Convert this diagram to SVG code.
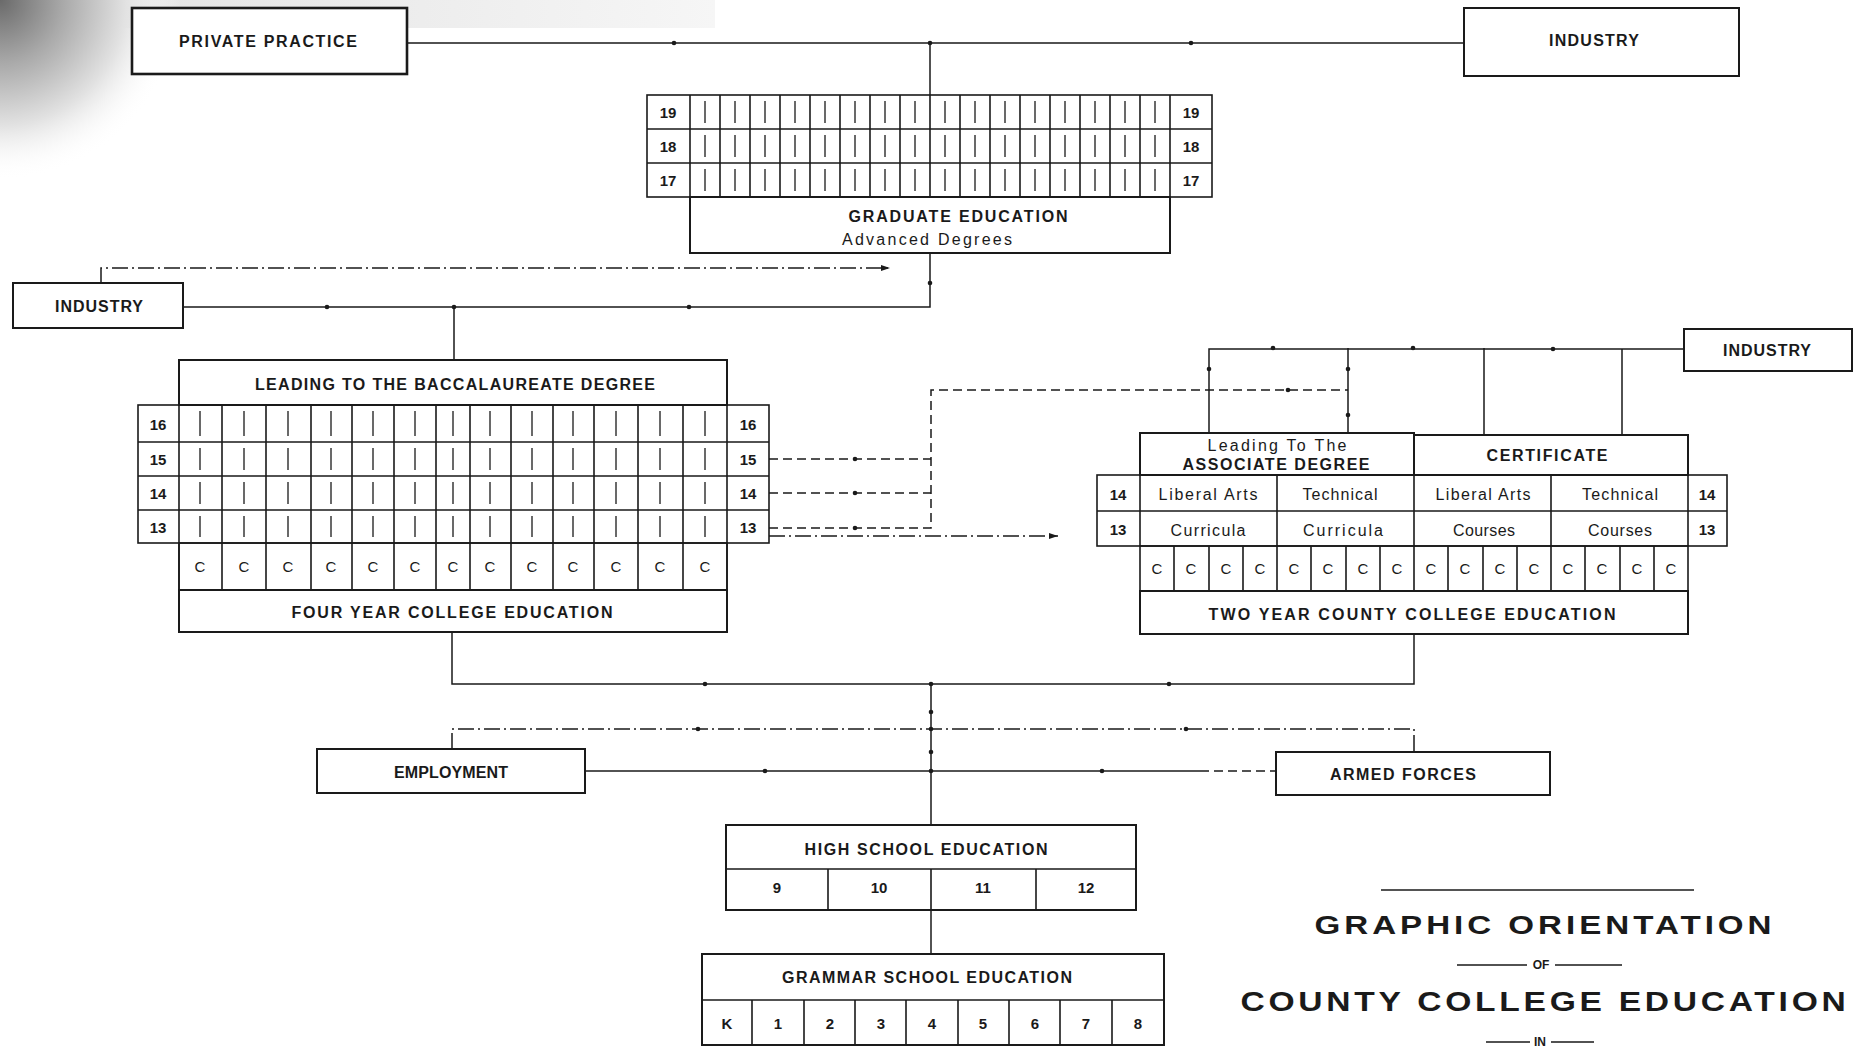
<svg xmlns="http://www.w3.org/2000/svg" width="1854" height="1049" viewBox="0 0 1854 1049">
<style>
.bg{fill:#fff}
.box{fill:#fff;stroke:#1a1a1a;stroke-width:2}
.grid{fill:none;stroke:#1a1a1a;stroke-width:1.6}
.bar{fill:none;stroke:#1a1a1a;stroke-width:1.3}
.ln{fill:none;stroke:#1a1a1a;stroke-width:1.5}
.dash{stroke-dasharray:9 5}
.dd{stroke-dasharray:16 4 2 4}
text{font-family:'Liberation Sans',Arial,sans-serif;fill:#1a1a1a;text-anchor:middle;dominant-baseline:central}
.lbl{font-size:16px;font-weight:bold}
.lc{font-size:16px}
.num{font-size:15px;font-weight:bold}
.c{font-size:15px}
.t1{font-size:25px;font-weight:bold;letter-spacing:3px;dominant-baseline:alphabetic}
.t2{font-size:12px;font-weight:bold}
</style>
<defs>
<radialGradient id="sm" gradientUnits="userSpaceOnUse" cx="0" cy="0" r="180">
<stop offset="0" stop-color="#6a6a6a"/>
<stop offset="0.35" stop-color="#a9a9a9"/>
<stop offset="0.7" stop-color="#e2e2e2"/>
<stop offset="1" stop-color="#ffffff" stop-opacity="0"/>
</radialGradient>
<linearGradient id="band" x1="0" y1="0" x2="1" y2="0">
<stop offset="0" stop-color="#e0e0e0"/>
<stop offset="1" stop-color="#f6f6f6"/>
</linearGradient>
<circle id="d" cx="0" cy="0" r="2.3" fill="#1a1a1a"/>
<marker id="ah" markerWidth="10" markerHeight="8" refX="9" refY="4" orient="auto" markerUnits="userSpaceOnUse">
<path d="M0 1L9 4L0 7Z" fill="#1a1a1a"/>
</marker>
</defs>
<rect class="bg" x="0" y="0" width="1854" height="1049"/>
<rect x="0" y="0" width="715" height="28" fill="url(#band)"/>
<rect x="0" y="0" width="180" height="180" fill="url(#sm)"/>

<g id="connectors">
<path class="ln" d="M407 43H1464M930 43V95"/>
<path class="ln" d="M930 253V307H183M454 307V360"/>
<path class="ln dd" d="M101 283V268H890" marker-end="url(#ah)"/>
<path class="ln dash" d="M769 459H931M769 493H931M769 528H931V390H1348"/>
<path class="ln dd" d="M769 536H1058" marker-end="url(#ah)"/>
<path class="ln" d="M1684 349H1209V433M1348 348V433M1484 348V435M1622 349V435"/>
<path class="ln" d="M452 632V684H1414V634M931 684V825"/>
<path class="ln dd" d="M452 749V729H1414V752"/>
<path class="ln" d="M585 771H1200"/>
<path class="ln dash" d="M1200 771H1276"/>
<path class="ln" d="M931 910V954"/>
<g>
<use href="#d" x="674" y="43"/><use href="#d" x="1191" y="43"/><use href="#d" x="930" y="43"/>
<use href="#d" x="930" y="283"/><use href="#d" x="327" y="307"/><use href="#d" x="689" y="307"/><use href="#d" x="454" y="307"/>
<use href="#d" x="855" y="459"/><use href="#d" x="855" y="493"/><use href="#d" x="855" y="528"/><use href="#d" x="1288" y="390"/>
<use href="#d" x="1209" y="369"/><use href="#d" x="1348" y="369"/><use href="#d" x="1348" y="415"/>
<use href="#d" x="1273" y="348"/><use href="#d" x="1413" y="348"/><use href="#d" x="1553" y="349"/>
<use href="#d" x="705" y="684"/><use href="#d" x="1169" y="684"/><use href="#d" x="931" y="684"/>
<use href="#d" x="931" y="712"/><use href="#d" x="931" y="729"/><use href="#d" x="931" y="752"/><use href="#d" x="931" y="771"/>
<use href="#d" x="698" y="729"/><use href="#d" x="1186" y="729"/><use href="#d" x="765" y="771"/><use href="#d" x="1102" y="771"/>
</g>
</g>

<g id="private-practice">
<rect class="box" x="132" y="8" width="275" height="66" style="stroke-width:2.6"/>
<text class="lbl" x="268" y="41" textLength="178">PRIVATE PRACTICE</text>
</g>

<g id="industry-top">
<rect class="box" x="1464" y="8" width="275" height="68"/>
<text class="lbl" x="1594" y="40" textLength="90">INDUSTRY</text>
</g>

<g id="graduate">
<rect class="grid" x="647" y="95" width="565" height="102"/>
<path class="grid" d="M647 129H1212M647 163H1212M690 95V197M720 95V197M750 95V197M780 95V197M810 95V197M840 95V197M870 95V197M900 95V197M930 95V197M960 95V197M990 95V197M1020 95V197M1050 95V197M1080 95V197M1110 95V197M1140 95V197M1170 95V197"/>
<path class="bar" d="M705 101V123M705 135V157M705 169V191M735 101V123M735 135V157M735 169V191M765 101V123M765 135V157M765 169V191M795 101V123M795 135V157M795 169V191M825 101V123M825 135V157M825 169V191M855 101V123M855 135V157M855 169V191M885 101V123M885 135V157M885 169V191M915 101V123M915 135V157M915 169V191M945 101V123M945 135V157M945 169V191M975 101V123M975 135V157M975 169V191M1005 101V123M1005 135V157M1005 169V191M1035 101V123M1035 135V157M1035 169V191M1065 101V123M1065 135V157M1065 169V191M1095 101V123M1095 135V157M1095 169V191M1125 101V123M1125 135V157M1125 169V191M1155 101V123M1155 135V157M1155 169V191"/>
<text class="num" x="668" y="112">19</text><text class="num" x="668" y="146">18</text><text class="num" x="668" y="180">17</text>
<text class="num" x="1191" y="112">19</text><text class="num" x="1191" y="146">18</text><text class="num" x="1191" y="180">17</text>
<rect class="box" x="690" y="197" width="480" height="56"/>
<text class="lbl" x="958" y="216" textLength="219">GRADUATE EDUCATION</text>
<text class="lc" x="927" y="239" textLength="170">Advanced Degrees</text>
</g>

<g id="industry-left">
<rect class="box" x="13" y="283" width="170" height="45"/>
<text class="lbl" x="99" y="306" textLength="88">INDUSTRY</text>
</g>

<g id="four-year">
<rect class="box" x="179" y="360" width="548" height="45"/>
<text class="lbl" x="455" y="384" textLength="400">LEADING TO THE BACCALAUREATE DEGREE</text>
<rect class="grid" x="138" y="405" width="631" height="138"/>
<path class="grid" d="M138 442H769M138 476H769M138 510H769M179 405V590M222 405V590M266 405V590M311 405V590M352 405V590M394 405V590M436 405V590M470 405V590M511 405V590M553 405V590M594 405V590M638 405V590M683 405V590M727 405V590"/>
<path class="bar" d="M200 411V436M200 448V470M200 482V504M200 516V537M244 411V436M244 448V470M244 482V504M244 516V537M288 411V436M288 448V470M288 482V504M288 516V537M331 411V436M331 448V470M331 482V504M331 516V537M373 411V436M373 448V470M373 482V504M373 516V537M415 411V436M415 448V470M415 482V504M415 516V537M453 411V436M453 448V470M453 482V504M453 516V537M490 411V436M490 448V470M490 482V504M490 516V537M532 411V436M532 448V470M532 482V504M532 516V537M573 411V436M573 448V470M573 482V504M573 516V537M616 411V436M616 448V470M616 482V504M616 516V537M660 411V436M660 448V470M660 482V504M660 516V537M705 411V436M705 448V470M705 482V504M705 516V537"/>
<text class="num" x="158" y="424">16</text><text class="num" x="158" y="459">15</text><text class="num" x="158" y="493">14</text><text class="num" x="158" y="527">13</text>
<text class="num" x="748" y="424">16</text><text class="num" x="748" y="459">15</text><text class="num" x="748" y="493">14</text><text class="num" x="748" y="527">13</text>
<rect class="grid" x="179" y="543" width="548" height="47"/>
<text class="c" x="200" y="566">C</text><text class="c" x="244" y="566">C</text><text class="c" x="288" y="566">C</text><text class="c" x="331" y="566">C</text><text class="c" x="373" y="566">C</text><text class="c" x="415" y="566">C</text><text class="c" x="453" y="566">C</text><text class="c" x="490" y="566">C</text><text class="c" x="532" y="566">C</text><text class="c" x="573" y="566">C</text><text class="c" x="616" y="566">C</text><text class="c" x="660" y="566">C</text><text class="c" x="705" y="566">C</text>
<rect class="box" x="179" y="590" width="548" height="42"/>
<text class="lbl" x="452" y="612" textLength="321">FOUR YEAR COLLEGE EDUCATION</text>
</g>

<g id="industry-right">
<rect class="box" x="1684" y="329" width="168" height="42"/>
<text class="lbl" x="1767" y="350" textLength="88">INDUSTRY</text>
</g>

<g id="two-year">
<rect class="box" x="1140" y="433" width="274" height="42"/>
<text class="lc" x="1277" y="445" textLength="139">Leading To The</text>
<text class="lbl" x="1276" y="464" textLength="187">ASSOCIATE DEGREE</text>
<rect class="box" x="1414" y="435" width="274" height="40"/>
<text class="lbl" x="1547" y="455" textLength="121">CERTIFICATE</text>
<rect class="grid" x="1097" y="475" width="630" height="71"/>
<path class="grid" d="M1097 511H1727M1140 475V546M1277 475V546M1414 475V634M1551 475V546M1688 475V546"/>
<text class="num" x="1118" y="494">14</text><text class="num" x="1118" y="529">13</text>
<text class="num" x="1707" y="494">14</text><text class="num" x="1707" y="529">13</text>
<text class="lc" x="1208" y="494" textLength="99">Liberal Arts</text>
<text class="lc" x="1340" y="494" textLength="75">Technical</text>
<text class="lc" x="1483" y="494" textLength="95">Liberal Arts</text>
<text class="lc" x="1620" y="494" textLength="76">Technical</text>
<text class="lc" x="1208" y="530" textLength="75">Curricula</text>
<text class="lc" x="1343" y="530" textLength="80">Curricula</text>
<text class="lc" x="1484" y="530" textLength="62">Courses</text>
<text class="lc" x="1620" y="530" textLength="64">Courses</text>
<rect class="grid" x="1140" y="546" width="548" height="45"/>
<path class="grid" d="M1174 546V591M1209 546V591M1243 546V591M1277 546V591M1311 546V591M1346 546V591M1380 546V591M1448 546V591M1483 546V591M1517 546V591M1551 546V591M1585 546V591M1620 546V591M1654 546V591"/>
<text class="c" x="1157" y="568">C</text><text class="c" x="1191" y="568">C</text><text class="c" x="1226" y="568">C</text><text class="c" x="1260" y="568">C</text><text class="c" x="1294" y="568">C</text><text class="c" x="1328" y="568">C</text><text class="c" x="1363" y="568">C</text><text class="c" x="1397" y="568">C</text><text class="c" x="1431" y="568">C</text><text class="c" x="1465" y="568">C</text><text class="c" x="1500" y="568">C</text><text class="c" x="1534" y="568">C</text><text class="c" x="1568" y="568">C</text><text class="c" x="1602" y="568">C</text><text class="c" x="1637" y="568">C</text><text class="c" x="1671" y="568">C</text>
<rect class="box" x="1140" y="591" width="548" height="43"/>
<text class="lbl" x="1412" y="614" textLength="407">TWO YEAR COUNTY COLLEGE EDUCATION</text>
</g>

<g id="employment">
<rect class="box" x="317" y="749" width="268" height="44"/>
<text class="lbl" x="451" y="772" textLength="114">EMPLOYMENT</text>
</g>

<g id="armed-forces">
<rect class="box" x="1276" y="752" width="274" height="43"/>
<text class="lbl" x="1403" y="774" textLength="146">ARMED FORCES</text>
</g>

<g id="high-school">
<rect class="box" x="726" y="825" width="410" height="85"/>
<path class="grid" d="M726 869H1136M828 869V910M931 869V910M1036 869V910"/>
<text class="lbl" x="926" y="849" textLength="243">HIGH SCHOOL EDUCATION</text>
<text class="num" x="777" y="887">9</text><text class="num" x="879" y="887">10</text><text class="num" x="983" y="887">11</text><text class="num" x="1086" y="887">12</text>
</g>

<g id="grammar-school">
<rect class="box" x="702" y="954" width="462" height="91"/>
<path class="grid" d="M702 1000H1164M752 1000V1045M804 1000V1045M855 1000V1045M906 1000V1045M958 1000V1045M1009 1000V1045M1060 1000V1045M1112 1000V1045"/>
<text class="lbl" x="927" y="977" textLength="290">GRAMMAR SCHOOL EDUCATION</text>
<text class="num" x="727" y="1023">K</text><text class="num" x="778" y="1023">1</text><text class="num" x="830" y="1023">2</text><text class="num" x="881" y="1023">3</text><text class="num" x="932" y="1023">4</text><text class="num" x="983" y="1023">5</text><text class="num" x="1035" y="1023">6</text><text class="num" x="1086" y="1023">7</text><text class="num" x="1138" y="1023">8</text>
</g>

<g id="title">
<path class="ln" d="M1381 890H1694"/>
<text class="t1" x="1545" y="934" textLength="461" lengthAdjust="spacingAndGlyphs">GRAPHIC ORIENTATION</text>
<path class="ln" d="M1457 965H1527M1555 965H1622"/>
<text class="t2" x="1541" y="965">OF</text>
<text class="t1" x="1545" y="1011" textLength="609" lengthAdjust="spacingAndGlyphs" style="font-size:27px">COUNTY COLLEGE EDUCATION</text>
<path class="ln" d="M1486 1042H1530M1551 1042H1594"/>
<text class="t2" x="1540" y="1042">IN</text>
</g>
</svg>
